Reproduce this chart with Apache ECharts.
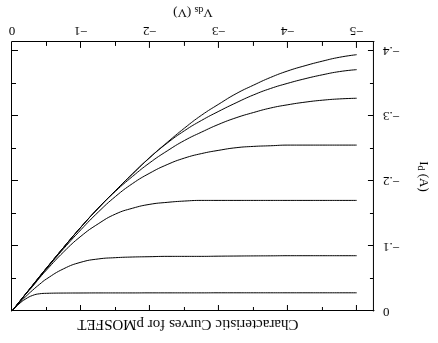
<!DOCTYPE html>
<html>
<head>
<meta charset="utf-8">
<script src="https://cdn.jsdelivr.net/npm/echarts@6/dist/echarts.min.js"></script>
<style>
html,body{margin:0;padding:0;background:#fff;}
#c{width:438px;height:343px;transform:rotate(180deg);transform-origin:50% 50%;}
</style>
</head>
<body>
<div id="c"></div>
<script>
// Drain-source voltage (V)
const vds = [0,-0.1,-0.2,-0.3,-0.4,-0.5,-0.75,-1,-1.25,-1.5,-1.75,-2,-2.25,-2.5,-2.75,-3,-3.25,-3.5,-3.75,-4,-4.25,-4.5,-4.75,-5];
// Drain current (A) for each gate-voltage curve
const id1 = [0,-0.0107,-0.0187,-0.024,-0.0265,-0.0272,-0.0276,-0.0277,-0.0278,-0.0278,-0.0278,-0.0279,-0.0279,-0.0279,-0.0279,-0.028,-0.028,-0.028,-0.028,-0.028,-0.028,-0.028,-0.028,-0.028];
const id2 = [0,-0.0116,-0.0223,-0.0321,-0.0411,-0.0493,-0.065,-0.075,-0.080,-0.082,-0.083,-0.0835,-0.084,-0.084,-0.084,-0.0843,-0.0845,-0.0847,-0.0848,-0.085,-0.085,-0.085,-0.085,-0.085];
const id3 = [0,-0.013,-0.026,-0.038,-0.051,-0.063,-0.091,-0.115,-0.134,-0.149,-0.158,-0.164,-0.167,-0.169,-0.170,-0.170,-0.170,-0.170,-0.170,-0.170,-0.170,-0.170,-0.170,-0.170];
const id4 = [0,-0.0132,-0.0264,-0.0393,-0.052,-0.065,-0.096,-0.125,-0.152,-0.176,-0.196,-0.212,-0.225,-0.235,-0.242,-0.247,-0.251,-0.253,-0.254,-0.255,-0.255,-0.255,-0.255,-0.255];
const id5 = [0,-0.0133,-0.0265,-0.0397,-0.053,-0.066,-0.098,-0.129,-0.158,-0.184,-0.207,-0.228,-0.246,-0.262,-0.275,-0.287,-0.297,-0.305,-0.312,-0.317,-0.321,-0.324,-0.326,-0.327];
const id6 = [0,-0.0133,-0.0265,-0.0397,-0.053,-0.066,-0.098,-0.129,-0.158,-0.185,-0.211,-0.236,-0.258,-0.277,-0.293,-0.307,-0.320,-0.332,-0.342,-0.350,-0.357,-0.363,-0.368,-0.371];
const id7 = [0,-0.0133,-0.0265,-0.0397,-0.053,-0.066,-0.098,-0.129,-0.158,-0.185,-0.211,-0.236,-0.259,-0.281,-0.301,-0.318,-0.334,-0.347,-0.359,-0.369,-0.377,-0.384,-0.390,-0.394];
const curves = [id1,id2,id3,id4,id5,id6,id7];
// Tick values and labels
const xMajor = [-5,-4,-3,-2,-1,0];
const xMinor = [-4.5,-3.5,-2.5,-1.5,-0.5];
const xLabels = ['\u22125','\u22124','\u22123','\u22122','\u22121','0'];
const yMajor = [-0.4,-0.3,-0.2,-0.1,0];
const yMinor = [-0.35,-0.25,-0.15,-0.05];
const yLabels = ['\u2212.4','\u2212.3','\u2212.2','\u2212.1','0'];
const titleText = 'Characteristic Curves for pMOSFET';

const FONT = 'Liberation Serif';
const XMIN = -5.25, XMAX = 0, YMIN = -0.4136, YMAX = 0;

function xAx(pos, vals, len, showLine, labels){
  return {
    type:'value', position:pos, min:XMIN, max:XMAX,
    axisLine:{show:showLine, onZero:false, lineStyle:{color:'#000', width:1}},
    axisTick:{show:true, inside:true, length:len, customValues:vals, lineStyle:{color:'#000', width:1}},
    axisLabel: labels ? {show:true, customValues:vals, margin:5, color:'#000', fontFamily:FONT, fontSize:13,
      formatter:(v)=>{const i = xMajor.findIndex(t=>Math.abs(t-v)<1e-9); return i>=0 ? xLabels[i] : '';}} : {show:false},
    splitLine:{show:false}
  };
}
function yAx(pos, vals, len, showLine, labels){
  return {
    type:'value', position:pos, min:YMIN, max:YMAX,
    axisLine:{show:showLine, onZero:false, lineStyle:{color:'#000', width:1}},
    axisTick:{show:true, inside:true, length:len, customValues:vals, lineStyle:{color:'#000', width:1}},
    axisLabel: labels ? {show:true, customValues:vals, margin:9, color:'#000', fontFamily:FONT, fontSize:13,
      formatter:(v)=>{const i = yMajor.findIndex(t=>Math.abs(t-v)<1e-9); return i>=0 ? yLabels[i] : '';}} : {show:false},
    splitLine:{show:false}
  };
}

const xAxes = [xAx('bottom', xMajor, 6, true, true), xAx('bottom', xMinor, 4, false, false), xAx('top', xMajor, 6, true, false), xAx('top', xMinor, 4, false, false)];
xAxes[0].name = '{a|V}{b|ds}{a| (V)}';
xAxes[0].nameLocation = 'middle';
xAxes[0].nameGap = 17;
xAxes[0].nameTextStyle = {color:'#000', fontFamily:FONT, fontSize:13, rich:{a:{fontFamily:FONT,fontSize:13,color:'#000'}, b:{fontFamily:FONT,fontSize:10,color:'#000',padding:[5,0,0,0]}}};
const yAxes = [yAx('left', yMajor, 6, true, true), yAx('left', yMinor, 4, false, false), yAx('right', yMajor, 6, true, false), yAx('right', yMinor, 4, false, false)];
yAxes[0].name = '{a|I}{b|d}{a| (A)}';
yAxes[0].nameLocation = 'middle';
yAxes[0].nameGap = 42;
yAxes[0].nameTextStyle = {color:'#000', fontFamily:FONT, fontSize:13, rich:{a:{fontFamily:FONT,fontSize:13,color:'#000'}, b:{fontFamily:FONT,fontSize:10,color:'#000',padding:[5,0,0,0]}}};

const chart = echarts.init(document.getElementById('c'), null, {renderer:'canvas'});
chart.setOption({
  animation:false,
  backgroundColor:'#fff',
  title:{text:titleText, left:245, top:7, textAlign:'center', textStyle:{color:'#000', fontFamily:FONT, fontSize:15, fontWeight:'normal'}},
  grid:{left:63, right:12, top:32, bottom:38, containLabel:false},
  xAxis:xAxes,
  yAxis:yAxes,
  series:curves.map(c=>({
    type:'line', xAxisIndex:0, yAxisIndex:0, showSymbol:false, smooth:0.5,
    lineStyle:{color:'#000', width:1}, data:vds.map((v,i)=>[v,c[i]])
  }))
});
</script>
</body>
</html>
